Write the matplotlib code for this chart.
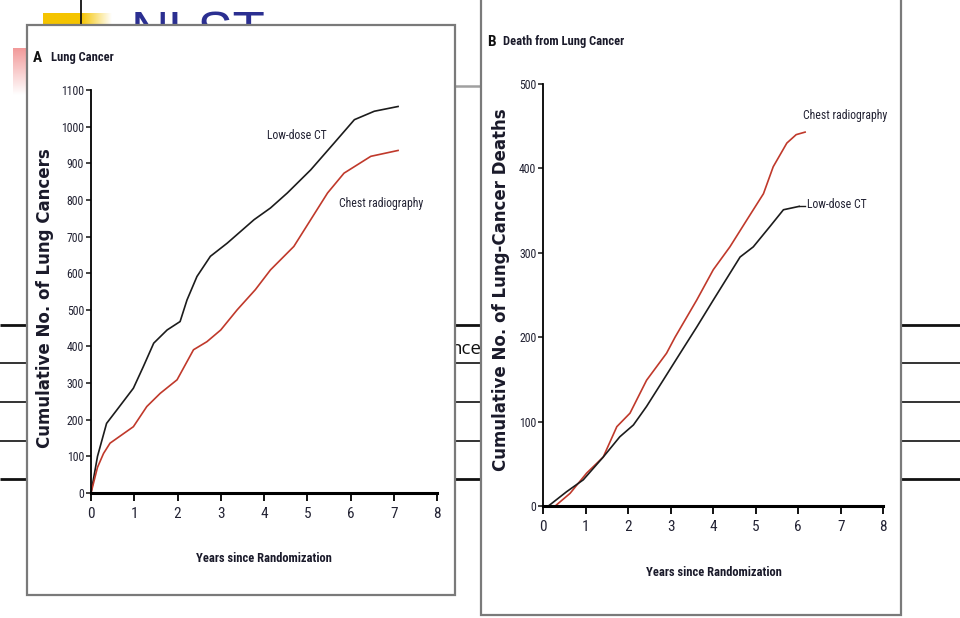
import numpy as np
import matplotlib
matplotlib.use('Agg')
import matplotlib.pyplot as plt
from matplotlib.patches import Rectangle
from matplotlib.colors import LinearSegmentedColormap

# ---------------- data ----------------
year_ticks = [0, 1, 2, 3, 4, 5, 6, 7, 8]
a_yticks = [0, 100, 200, 300, 400, 500, 600, 700, 800, 900, 1000, 1100]
b_yticks = [0, 100, 200, 300, 400, 500]

# Panel A: cumulative number of lung cancers
a_ct_years = [0, 0.15, 0.36, 0.6, 0.98, 1.21, 1.45, 1.76, 2.06, 2.22, 2.45, 2.76,
              3.15, 3.77, 4.15, 4.54, 5.08, 5.62, 6.09, 6.55, 7.1]
a_ct_vals = [0, 100, 190, 227, 286, 345, 409, 445, 468, 527, 591, 646,
             682, 746, 778, 819, 882, 955, 1019, 1042, 1055]
a_cxr_years = [0, 0.15, 0.29, 0.44, 0.98, 1.29, 1.6, 1.99, 2.37, 2.68, 3.0, 3.38,
               3.8, 4.15, 4.69, 5.08, 5.47, 5.85, 6.47, 7.1]
a_cxr_vals = [0, 70, 108, 136, 181, 236, 272, 309, 391, 413, 445, 500,
              555, 609, 673, 746, 819, 873, 919, 935]

# Panel B: cumulative number of lung-cancer deaths
b_cxr_years = [0.28, 0.63, 1.02, 1.41, 1.73, 2.04, 2.43, 2.9, 3.1, 3.61, 4.0,
               4.39, 4.79, 5.18, 5.41, 5.73, 5.95, 6.16]
b_cxr_vals = [0, 15, 39, 58, 94, 110, 149, 181, 200, 244, 280,
              307, 339, 370, 402, 430, 440, 443]
b_ct_years = [0.12, 0.55, 0.94, 1.41, 1.8, 2.12, 2.43, 2.82, 3.22, 3.61, 4.0,
              4.63, 4.94, 5.33, 5.65, 6.02]
b_ct_vals = [0, 17, 31, 58, 82, 96, 118, 149, 181, 212, 244,
             295, 307, 331, 351, 355]

CT_COLOR = '#1c1c1c'
CXR_COLOR = '#c0392b'
NARROW = ['Roboto Condensed', 'Liberation Sans Narrow', 'Liberation Sans', 'DejaVu Sans']

fig = plt.figure(figsize=(9.6, 6.18), dpi=100)
fig.patch.set_facecolor('white')

# ---------------- slide background (pixel coordinates) ----------------
bg = fig.add_axes([0, 0, 1, 1], zorder=0)
bg.axis('off')

# table lines behind the pictures
for yy, lw in [(325, 2.0), (363, 1.2), (402, 1.2), (441, 1.2), (479, 2.0)]:
    bg.plot([0, 960], [yy, yy], color='#111111', lw=lw, zorder=1, solid_capstyle='butt')
bg.text(450, 349, 'nce', fontsize=13.5, family=['Open Sans', 'DejaVu Sans'],
        color='#111111', va='center', ha='left', zorder=2)

# grey rule line
bg.plot([455, 481], [86, 86], color='#a0a0a0', lw=1.8, zorder=1)

# yellow decoration with fade
xs = np.linspace(0, 1, 200)
fade = np.clip((xs - 0.55) / 0.45, 0, 1)
ycmap = LinearSegmentedColormap.from_list('y', ['#f5c400', '#ffffff'])
bg.imshow(fade[None, :], extent=(43, 112, 25, 13), cmap=ycmap, vmin=0, vmax=1,
          aspect='auto', zorder=1)
bg.plot([81, 81], [0, 25], color='#111111', lw=1.3, zorder=2)

# red decoration with fade
ys = np.linspace(0, 1, 200)
rcmap = LinearSegmentedColormap.from_list('r', ['#f29a9a', '#ffffff'])
bg.imshow(ys[:, None], extent=(13, 27, 95, 48), cmap=rcmap, vmin=0, vmax=1,
          aspect='auto', zorder=1, origin='upper')

# slide title, mostly hidden by picture A
bg.text(131, 50, 'NLST', fontsize=38, family=['Liberation Sans', 'DejaVu Sans'],
        color='#2b2f91', ha='left', va='baseline', zorder=2)

# picture frames
bg.add_patch(Rectangle((27, 25), 428, 570, facecolor='white', edgecolor='#7a7a7a',
                       lw=1.6, zorder=5))
bg.add_patch(Rectangle((481, -10), 420, 625, facecolor='white', edgecolor='#7a7a7a',
                       lw=1.6, zorder=5))

# picture texts
bg.text(33, 58, 'A', fontsize=11, fontweight='bold', family=NARROW,
        color='#111111', va='center', ha='left', zorder=6)
bg.text(51, 58, 'Lung Cancer', fontsize=9, fontweight='bold', family=NARROW,
        color='#1a1a2a', va='center', ha='left', zorder=6)
bg.text(487, 42, 'B', fontsize=11, fontweight='bold', family=NARROW,
        color='#111111', va='center', ha='left', zorder=6)
bg.text(503, 42, 'Death from Lung Cancer', fontsize=9, fontweight='bold', family=NARROW,
        color='#1a1a2a', va='center', ha='left', zorder=6)

bg.text(45, 298, 'Cumulative No. of Lung Cancers', rotation=90, fontsize=12,
        fontweight='bold', family=['DejaVu Sans'], color='#1a1a2a',
        va='center', ha='center', zorder=6)
bg.text(501, 290, 'Cumulative No. of Lung-Cancer Deaths', rotation=90, fontsize=12,
        fontweight='bold', family=['DejaVu Sans'], color='#1a1a2a',
        va='center', ha='center', zorder=6)

bg.text(264, 558, 'Years since Randomization', fontsize=9, fontweight='bold',
        family=NARROW, color='#1a1a2a', va='center', ha='center', zorder=6)
bg.text(714, 573, 'Years since Randomization', fontsize=9, fontweight='bold',
        family=NARROW, color='#1a1a2a', va='center', ha='center', zorder=6)

bg.set_xlim(0, 960)
bg.set_ylim(618, 0)

# ---------------- data axes ----------------
W, H = 960.0, 618.0
axA = fig.add_axes([91 / W, 1 - 493 / H, 346 / W, 403 / H], zorder=2)
axB = fig.add_axes([543.3 / W, 1 - 506 / H, 340 / W, 422 / H], zorder=2)


def style(ax, yticks):
    ax.patch.set_visible(False)
    for s in ('top', 'right'):
        ax.spines[s].set_visible(False)
    ax.spines['left'].set_linewidth(1.3)
    ax.spines['bottom'].set_linewidth(2.2)
    ax.set_xlim(year_ticks[0], year_ticks[-1])
    ax.set_ylim(yticks[0], yticks[-1])
    ax.set_xticks(year_ticks)
    ax.set_yticks(yticks)
    ax.tick_params(axis='x', direction='out', length=6, width=1.4, pad=4,
                   labelsize=11, colors='#111111')
    ax.tick_params(axis='y', direction='out', length=3.5, width=1.1, pad=1.5,
                   labelsize=8.5, colors='#111111')
    for lab in ax.get_xticklabels() + ax.get_yticklabels():
        lab.set_family(NARROW)
        lab.set_color('#222233')


style(axA, a_yticks)
style(axB, b_yticks)

axA.plot(a_ct_years, a_ct_vals, color=CT_COLOR, lw=1.2, clip_on=False)
axA.plot(a_cxr_years, a_cxr_vals, color=CXR_COLOR, lw=1.2, clip_on=False)
axB.plot(b_cxr_years, b_cxr_vals, color=CXR_COLOR, lw=1.2, clip_on=False)
axB.plot(b_ct_years, b_ct_vals, color=CT_COLOR, lw=1.2, clip_on=False)

lab_kw = dict(fontsize=8.5, family=NARROW, color='#222233')
axA.text(4.75, 977, 'Low-dose CT', ha='center', va='center', **lab_kw)
axA.text(6.71, 789, 'Chest radiography', ha='center', va='center', **lab_kw)
axB.text(6.11, 463, 'Chest radiography', ha='left', va='center', **lab_kw)
axB.plot([6.02, 6.16], [356, 356], color=CT_COLOR, lw=1.0, clip_on=False)
axB.text(6.2, 357, 'Low-dose CT', ha='left', va='center', **lab_kw)

fig.savefig('out.png', dpi=100, facecolor='white')
